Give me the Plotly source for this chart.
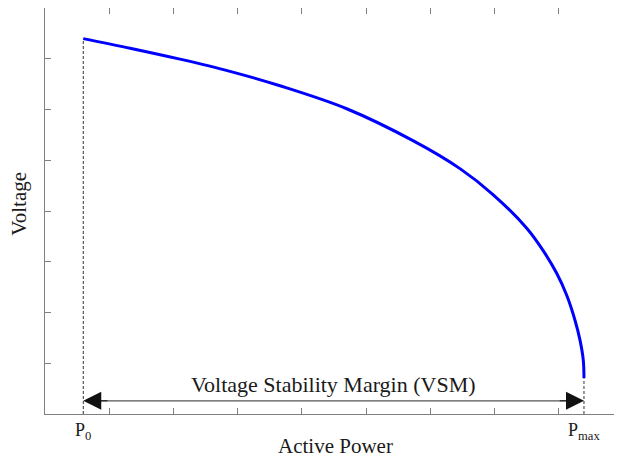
import plotly.graph_objects as go

# Curve (Active Power vs Voltage, arbitrary units)
power = [0.596, 1.324, 2.102, 2.881, 3.659, 4.698, 5.730, 6.462, 6.976, 7.505,
         7.755, 7.968, 8.124, 8.253, 8.331, 8.382, 8.393]
voltage = [7.397, 7.208, 6.992, 6.752, 6.467, 6.015, 5.386, 4.835, 4.324, 3.656,
           3.224, 2.772, 2.339, 1.848, 1.455, 1.061, 0.708]

p0 = power[0]
pmax = power[-1]
arrow_level = 0.26
vsm_label = "Voltage Stability Margin (VSM)"
x_title = "Active Power"
y_title = "Voltage"

FONT = "Liberation Serif, Times New Roman, serif"
TXT = "#1a1a1a"

fig = go.Figure()

# dashed guides
fig.add_trace(go.Scatter(x=[p0, p0], y=[0, voltage[0]], mode="lines",
                         line=dict(color="#333333", width=1, dash="3px,2px"),
                         hoverinfo="skip", showlegend=False))
fig.add_trace(go.Scatter(x=[pmax, pmax], y=[0, voltage[-1]], mode="lines",
                         line=dict(color="#333333", width=1, dash="3px,2px"),
                         hoverinfo="skip", showlegend=False))

# margin arrow shaft (gray)
fig.add_trace(go.Scatter(x=[p0 + 0.1, pmax - 0.1], y=[arrow_level, arrow_level], mode="lines",
                         line=dict(color="#555555", width=1.2),
                         hoverinfo="skip", showlegend=False))

# PV curve
fig.add_trace(go.Scatter(x=power, y=voltage, mode="lines",
                         line=dict(color="#0000FF", width=3, shape="spline", smoothing=1.0),
                         showlegend=False))

annotations = [
    # arrow heads (black)
    dict(x=pmax, y=arrow_level, ax=pmax - 0.4, ay=arrow_level, xref="x", yref="y",
         axref="x", ayref="y", text="", showarrow=True, arrowhead=2, arrowsize=3.6,
         arrowwidth=1, arrowcolor="#111111", standoff=0),
    dict(x=p0, y=arrow_level, ax=p0 + 0.4, ay=arrow_level, xref="x", yref="y",
         axref="x", ayref="y", text="", showarrow=True, arrowhead=2, arrowsize=3.6,
         arrowwidth=1, arrowcolor="#111111", standoff=0),
    dict(x=(p0 + pmax) / 2, y=0.58, xref="x", yref="y", text=vsm_label,
         showarrow=False, font=dict(family=FONT, size=22, color=TXT),
         xanchor="center", yanchor="middle"),
    dict(x=p0, y=0, xref="x", yref="paper", text="P<sub>0</sub>", showarrow=False,
         font=dict(family=FONT, size=18, color=TXT), xanchor="center", yanchor="top",
         xshift=0, yshift=-4),
    dict(x=pmax, y=0, xref="x", yref="paper", text="P<sub>max</sub>", showarrow=False,
         font=dict(family=FONT, size=18, color=TXT), xanchor="center", yanchor="top",
         xshift=0, yshift=-4),
    dict(x=0.5026, y=0, xref="paper", yref="paper", text=x_title, showarrow=False,
         font=dict(family=FONT, size=21, color=TXT), xanchor="center", yanchor="middle",
         yshift=-32),
    dict(x=0, y=0.518, xref="paper", yref="paper", text=y_title, showarrow=False,
         font=dict(family=FONT, size=21, color=TXT), xanchor="center", yanchor="middle",
         textangle=-90, xshift=-26),
]

axis_common = dict(showgrid=False, zeroline=False, showline=True, linecolor="#808080",
                   linewidth=1, mirror="ticks", ticks="inside", ticklen=6,
                   tickcolor="#808080", tickwidth=1, showticklabels=False)

# page body has an 8px margin, so the figure is sized to fit inside the window
fig.update_layout(
    width=614, height=450,
    margin=dict(l=37, r=0, t=0, b=44, autoexpand=False),
    paper_bgcolor="white", plot_bgcolor="white",
    xaxis=dict(range=[0, 8.985], dtick=1, tick0=0, **axis_common),
    yaxis=dict(range=[0, 8], dtick=1, tick0=0, **axis_common),
    annotations=annotations,
    showlegend=False,
)

fig.write_html("out.html")
